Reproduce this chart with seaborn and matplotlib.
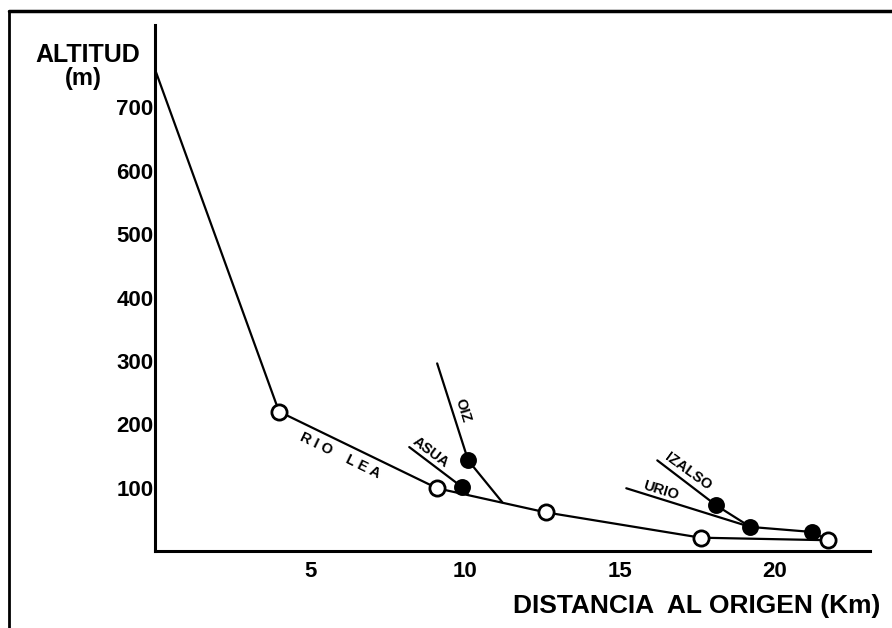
import seaborn as sns
import matplotlib.pyplot as plt
import pandas as pd
from matplotlib.lines import Line2D

# Perfil longitudinal del río Lea y afluentes
lea_km = [0, 4.0, 9.1, 12.6, 17.6, 21.7]
lea_alt = [760, 220, 99, 61, 21, 17]

asua_km = [8.2, 9.9, 10.1]
asua_alt = [164, 101, 89]

oiz_km = [9.1, 10.1, 11.2]
oiz_alt = [296, 143, 77]

izalso_km = [16.2, 18.1, 19.2]
izalso_alt = [143, 72, 38]

urio_km = [15.2, 19.2, 21.2, 21.7]
urio_alt = [99, 38, 30, 17]

# puntos de muestreo: abiertos (río Lea) y rellenos (afluentes)
abiertos_km = [4.0, 9.1, 12.6, 17.6, 21.7]
abiertos_alt = [220, 99, 61, 21, 17]
rellenos_km = [9.9, 10.1, 18.1, 19.2, 21.2]
rellenos_alt = [101, 143, 72, 38, 30]

xticks = [5, 10, 15, 20]
yticks = [100, 200, 300, 400, 500, 600, 700]

sns.set_style("white", {"text.color": "black", "xtick.color": "black",
                        "ytick.color": "black", "axes.labelcolor": "black"})
plt.rcParams['font.family'] = ['Liberation Sans', 'DejaVu Sans']

fig = plt.figure(figsize=(8.92, 6.28), dpi=100)
ax = fig.add_axes([155 / 892, 77 / 628, 715 / 892, 526 / 628])

rios = [(lea_km, lea_alt), (asua_km, asua_alt), (oiz_km, oiz_alt),
        (izalso_km, izalso_alt), (urio_km, urio_alt)]
for km, alt in rios:
    df = pd.DataFrame({"km": km, "alt": alt})
    sns.lineplot(data=df, x="km", y="alt", sort=False, color="black",
                 linewidth=1.6, ax=ax)

sns.scatterplot(x=abiertos_km, y=abiertos_alt, s=120, facecolor="white",
                edgecolor="black", linewidth=2, zorder=5, ax=ax)
sns.scatterplot(x=rellenos_km, y=rellenos_alt, s=120, color="black",
                edgecolor="black", linewidth=1.2, zorder=5, ax=ax)

ax.set_xlim(0, 23.06)
ax.set_ylim(0, 830)
ax.set_xticks(xticks)
ax.set_yticks(yticks)
ax.set_xticklabels([str(t) for t in xticks], fontsize=16, fontweight="bold")
ax.set_yticklabels([str(t) for t in yticks], fontsize=16, fontweight="bold")
ax.tick_params(axis="x", direction="in", length=12, width=1.6, pad=7,
               colors="black")
ax.tick_params(axis="y", direction="in", length=8, width=1.6, pad=1,
               colors="black")
for s in ["top", "right"]:
    ax.spines[s].set_visible(False)
for s in ["left", "bottom"]:
    ax.spines[s].set_linewidth(2.2)
    ax.spines[s].set_color("black")
ax.set_xlabel("")
ax.set_ylabel("")

# títulos de ejes
fig.text(88 / 892, 1 - 55 / 628, "ALTITUD", ha="center", va="center",
         fontsize=18, fontweight="bold", color="black")
fig.text(83 / 892, 1 - 78 / 628, "(m)", ha="center", va="center",
         fontsize=17, fontweight="bold", color="black")
fig.text(880 / 892, 1 - 606 / 628, "DISTANCIA  AL ORIGEN (Km)", ha="right",
         va="center", fontsize=19, fontweight="bold", color="black")

# nombres de los ríos
etiquetas = [
    (5.97, 151, "R I O    L E A", -26),
    (8.9, 156, "ASUA", -37),
    (9.94, 221, "OIZ", -73),
    (17.2, 126, "IZALSO", -36),
    (16.3, 95, "URIO", -17),
]
for x, y, txt, rot in etiquetas:
    ax.text(x, y, txt, rotation=rot, ha="center", va="center",
            fontsize=10.5, fontweight="bold", rotation_mode="anchor",
            color="black")

# marco de la figura
fig.add_artist(Line2D([9 / 892, 9 / 892], [0, 1 - 11 / 628],
                      transform=fig.transFigure, color="black", linewidth=2))
fig.add_artist(Line2D([9 / 892, 1], [1 - 11 / 628, 1 - 11 / 628],
                      transform=fig.transFigure, color="black", linewidth=2.5))

fig.savefig("out.png", dpi=100)
